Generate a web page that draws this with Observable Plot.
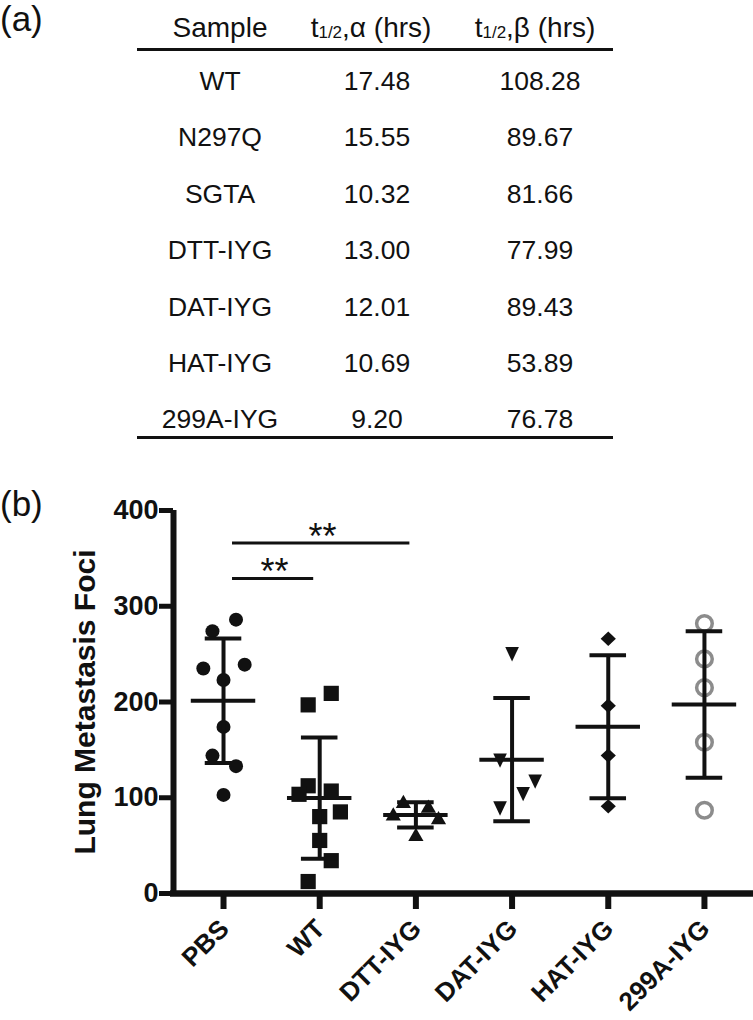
<!DOCTYPE html>
<html>
<head>
<meta charset="utf-8">
<script src="https://cdn.jsdelivr.net/npm/d3@7"></script>
<script src="https://cdn.jsdelivr.net/npm/@observablehq/plot@0.6"></script>
<style>
  html, body { margin: 0; padding: 0; background: #fff; }
  #page { position: relative; width: 753px; height: 1020px; overflow: hidden; background: #fff;
          font-family: "Liberation Sans", Arial, Helvetica, sans-serif; color: #111; }
  .panel { position: absolute; left: 0; font-size: 35px; line-height: 35px; }
  .cell { position: absolute; width: 240px; margin-left: -120px; text-align: center;
          font-size: 26.5px; line-height: 26px; white-space: nowrap; }
  .cell.head { font-size: 28px; }
  .cell sub { font-size: 17px; vertical-align: baseline; position: relative; top: 1px; }
  .rule { position: absolute; left: 137px; width: 476px; height: 2.5px; background: #111; }
  #chart { position: absolute; left: 0; top: 460px; }
</style>
</head>
<body>
<div id="page"></div>
<script>
// ---------- Panel (a): table data ----------
const tableHeaders = ["Sample", "t|1/2|,α (hrs)", "t|1/2|,β (hrs)"];
const tableSamples = ["WT", "N297Q", "SGTA", "DTT-IYG", "DAT-IYG", "HAT-IYG", "299A-IYG"];
const halfLifeAlpha = ["17.48", "15.55", "10.32", "13.00", "12.01", "10.69", "9.20"];
const halfLifeBeta = ["108.28", "89.67", "81.66", "77.99", "89.43", "53.89", "76.78"];

// ---------- Panel (b): scatter data ----------
const groups = ["PBS", "WT", "DTT-IYG", "DAT-IYG", "HAT-IYG", "299A-IYG"];
const yTicks = [0, 100, 200, 300, 400];
const pbsFoci = [286, 274, 235, 239, 223, 174, 144, 133, 103];
const pbsJitter = [0.13, -0.115, -0.21, 0.22, 0, 0, -0.115, 0.13, 0];
const wtFoci = [197, 209, 112.5, 103.6, 107, 85.2, 80.3, 55.4, 34.3, 12.5];
const wtJitter = [-0.12, 0.12, -0.12, -0.215, 0.12, 0.215, 0, 0, 0.12, -0.12];
const dttFoci = [96, 83, 91, 79, 61.5];
const dttJitter = [-0.13, -0.235, 0.13, 0.235, 0];
const datFoci = [250, 139, 117, 104, 89];
const datJitter = [0, -0.125, 0.24, 0.115, -0.125];
const hatFoci = [266, 196, 144, 91];
const hatJitter = [0, 0, 0, 0];
const a299Foci = [282, 245, 215, 158, 87];
const a299Jitter = [0, 0, 0, 0, 0];

const sigFrom = ["PBS", "PBS"];
const sigTo = ["WT", "DTT-IYG"];
const sigLevel = [329, 366];
const sigLabel = ["**", "**"];

// ---------- Build panel (a) ----------
const page = document.getElementById("page");
function addDiv(cls, html, style) {
  const d = document.createElement("div");
  d.className = cls;
  if (html != null) d.innerHTML = html;
  Object.assign(d.style, style);
  page.appendChild(d);
  return d;
}
function headerHtml(h) {
  const parts = h.split("|");
  if (parts.length === 1) return h;
  return parts[0] + "<sub>" + parts[1] + "</sub>" + parts[2];
}
addDiv("panel", "(a)", {top: "1px"});
addDiv("panel", "(b)", {top: "486px"});

const colCenters = [220, 377, 540];
const headCenters = [220, 371, 535];
const headerTop = 28, rowTop = 81, rowStep = 56.4;
tableHeaders.forEach((h, j) => {
  addDiv("cell head", headerHtml(h), {left: headCenters[j] + "px", top: (headerTop - 13) + "px"});
});
addDiv("rule", null, {top: "48px"});
const columns = [tableSamples, halfLifeAlpha, halfLifeBeta];
tableSamples.forEach((s, i) => {
  columns.forEach((col, j) => {
    addDiv("cell", col[i], {left: colCenters[j] + "px", top: (rowTop + i * rowStep - 13) + "px"});
  });
});
addDiv("rule", null, {top: "436px"});

// ---------- Build panel (b) ----------
const fociByGroup = [pbsFoci, wtFoci, dttFoci, datFoci, hatFoci, a299Foci];
const jitterByGroup = [pbsJitter, wtJitter, dttJitter, datJitter, hatJitter, a299Jitter];
const points = [];
fociByGroup.forEach((vals, g) => vals.forEach((v, k) => points.push({g, x: g + jitterByGroup[g][k], y: v})));
const summary = fociByGroup.map((vals, g) => {
  const m = d3.mean(vals), s = d3.deviation(vals);
  return {g, mean: m, lo: m - s, hi: m + s};
});

function shape(fn) { return {draw(ctx, size) { fn(ctx, Math.sqrt(size / Math.PI)); }}; }
const symSquare = shape((c, r) => { c.rect(-r, -r, 2 * r, 2 * r); });
const symTriUp = shape((c, r) => { c.moveTo(0, -0.9 * r); c.lineTo(r, 0.85 * r); c.lineTo(-r, 0.85 * r); c.closePath(); });
const symTriDown = shape((c, r) => { c.moveTo(-0.92 * r, -0.95 * r); c.lineTo(0.92 * r, -0.95 * r); c.lineTo(0, 1.0 * r); c.closePath(); });
const symDiamond = shape((c, r) => { c.moveTo(0, -0.95 * r); c.lineTo(r, 0); c.lineTo(0, 0.95 * r); c.lineTo(-r, 0); c.closePath(); });

const pts = g => points.filter(p => p.g === g);
const xDomain = [-0.52, 5.51];
const meanHalf = 0.335, capHalf = 0.19;
const sigIdx = sigLevel.map((_, i) => i);
const groupIdx = d3.range(groups.length);

const chart = Plot.plot({
  width: 753,
  height: 560,
  marginTop: 50,
  marginBottom: 127,
  marginLeft: 173,
  marginRight: 0,
  style: {fontFamily: "'Liberation Sans', Arial, Helvetica, sans-serif", background: "transparent", overflow: "visible", color: "#111"},
  x: {domain: xDomain},
  y: {domain: [0, 400]},
  marks: [
    Plot.dot(pts(0), {x: "x", y: "y", r: 7, symbol: "circle", fill: "#111", stroke: "none"}),
    Plot.dot(pts(1), {x: "x", y: "y", r: 7.6, symbol: symSquare, fill: "#111", stroke: "none"}),
    Plot.dot(pts(2), {x: "x", y: "y", r: 7.6, symbol: symTriUp, fill: "#111", stroke: "none"}),
    Plot.dot(pts(3), {x: "x", y: "y", r: 7.4, symbol: symTriDown, fill: "#111", stroke: "none"}),
    Plot.dot(pts(4), {x: "x", y: "y", r: 7.6, symbol: symDiamond, fill: "#111", stroke: "none"}),
    Plot.dot(pts(5), {x: "x", y: "y", r: 7.8, symbol: "circle", fill: "white", stroke: "#8c8c8c", strokeWidth: 3.5}),
    // error bars (mean ± SD)
    Plot.ruleX(summary, {x: "g", y1: "lo", y2: "hi", strokeWidth: 4, stroke: "#111"}),
    Plot.ruleY(summary, {y: "hi", x1: d => d.g - capHalf, x2: d => d.g + capHalf, strokeWidth: 4, stroke: "#111"}),
    Plot.ruleY(summary, {y: "lo", x1: d => d.g - capHalf, x2: d => d.g + capHalf, strokeWidth: 4, stroke: "#111"}),
    Plot.ruleY(summary, {y: "mean", x1: d => d.g - meanHalf, x2: d => d.g + meanHalf, strokeWidth: 4, stroke: "#111"}),
    // significance brackets
    Plot.ruleY(sigIdx, {y: i => sigLevel[i], x1: i => groups.indexOf(sigFrom[i]), x2: i => groups.indexOf(sigTo[i]),
      strokeWidth: 3, stroke: "#111", insetLeft: 9, insetRight: 6}),
    Plot.text(sigIdx, {x: i => (groups.indexOf(sigFrom[i]) + groups.indexOf(sigTo[i])) / 2 + 0.03, y: i => sigLevel[i],
      text: i => sigLabel[i], fontSize: 36, lineAnchor: "bottom", dy: 6, fill: "#111"}),
    // axes
    Plot.axisY({ticks: yTicks, tickSize: 14, tickPadding: 1, strokeWidth: 5, fontSize: 27, fontWeight: "bold", label: null, stroke: "#111", fill: "#111"}),
    Plot.axisX({ticks: groupIdx, tickFormat: () => "", tickSize: 16, strokeWidth: 6, label: null, stroke: "#111"}),
    Plot.text(groupIdx, {x: i => i, frameAnchor: "bottom", text: i => groups[i], rotate: -45, textAnchor: "end",
      lineAnchor: "middle", dx: 1, dy: 31, fontSize: 26, fontWeight: "bold", fill: "#111"}),
    Plot.ruleX([xDomain[0]], {y1: 0, y2: 400, strokeWidth: 6, stroke: "#111", insetTop: -2}),
    Plot.ruleY([0], {strokeWidth: 6.5, stroke: "#111", insetLeft: -3}),
    Plot.text(["Lung Metastasis Foci"], {text: d => d, frameAnchor: "left", rotate: -90, dx: -88, fontSize: 30,
      fontWeight: "bold", textAnchor: "middle", lineAnchor: "middle", fill: "#111"})
  ]
});
chart.id = "chart";
page.appendChild(chart);
</script>
</body>
</html>
